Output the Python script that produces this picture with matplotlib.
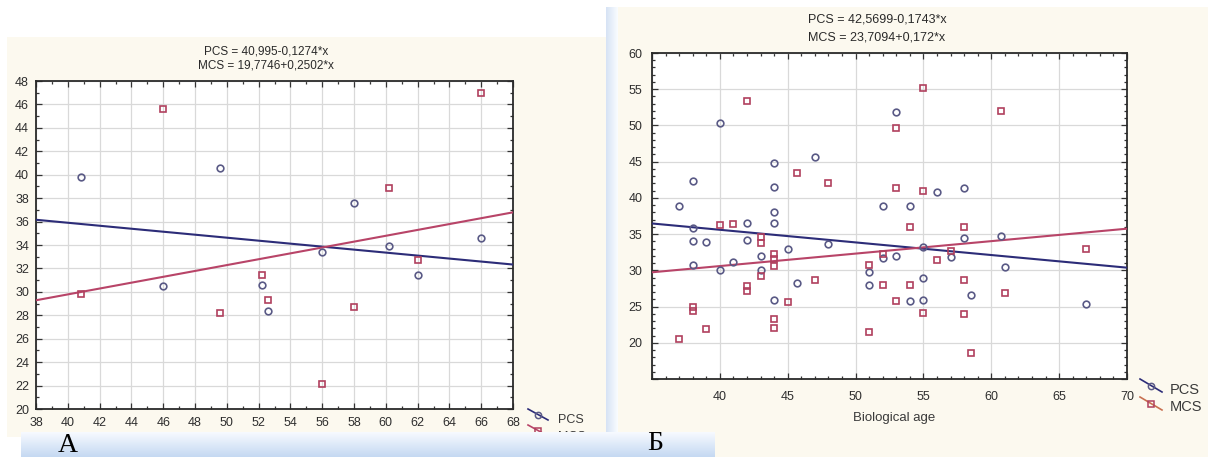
import numpy as np
import matplotlib
matplotlib.use("Agg")
import matplotlib.pyplot as plt
from matplotlib.lines import Line2D
from matplotlib.patches import Rectangle
from matplotlib.ticker import MultipleLocator, FixedLocator, FixedFormatter

W, H = 1208, 457
DPI = 100

# ---------------- data: panel A ----------------
a_pcs_x = [40.8, 46, 49.6, 52.2, 52.6, 56, 58, 60.2, 62, 66]
a_pcs_y = [39.8, 30.5, 40.6, 30.6, 28.4, 33.4, 37.6, 33.9, 31.4, 34.6]
a_mcs_x = [40.8, 46, 49.6, 52.2, 52.6, 56, 58, 60.2, 62, 66]
a_mcs_y = [29.8, 45.6, 28.2, 31.4, 29.3, 22.1, 28.7, 38.9, 32.7, 47.0]
a_pcs_fit = (40.995, -0.1274)
a_mcs_fit = (19.7746, 0.2502)
a_titles = ["PCS = 40,995-0,1274*x", "MCS = 19,7746+0,2502*x"]
a_xticks = list(range(38, 70, 2))
a_yticks = list(range(20, 50, 2))

# ---------------- data: panel Б ----------------
b_pcs_x = [37, 38, 38, 38, 38, 39, 40, 40, 41, 42, 42, 43, 43, 44, 44, 44, 44, 44,
           45, 45.7, 47, 48, 51, 51, 52, 52, 53, 53, 54, 54, 55, 55, 55, 56, 57,
           58, 58, 58.5, 60.7, 61, 67]
b_pcs_y = [38.9, 42.3, 35.9, 34.0, 30.8, 33.9, 50.4, 30.0, 31.1, 36.5, 34.2, 32.0,
           30.1, 44.8, 41.5, 38.1, 36.5, 25.9, 33.0, 28.2, 45.6, 33.7, 29.8, 28.0,
           38.9, 31.7, 51.9, 32.0, 38.9, 25.7, 33.2, 29.0, 25.9, 40.8, 31.9, 41.4,
           34.5, 26.6, 34.7, 30.4, 25.3]
b_mcs_x = [37, 38, 38, 39, 40, 41, 42, 42, 42, 43, 43, 43, 44, 44, 44, 44, 44, 45,
           45.7, 47, 48, 51, 51, 52, 52, 53, 53, 53, 54, 54, 55, 55, 55, 56, 57,
           58, 58, 58, 58.5, 60.7, 61, 67]
b_mcs_y = [20.5, 25.0, 24.4, 21.9, 36.2, 36.4, 53.4, 27.8, 27.2, 34.6, 33.8, 29.2,
           32.2, 31.5, 30.6, 23.3, 22.1, 25.6, 43.4, 28.7, 42.1, 30.8, 21.5, 32.3,
           28.0, 49.6, 41.3, 25.7, 36.0, 28.0, 55.1, 41.0, 24.1, 31.4, 32.6, 36.0,
           28.7, 24.0, 18.6, 52.0, 26.9, 33.0]
b_pcs_fit = (42.5699, -0.1743)
b_mcs_fit = (23.7094, 0.172)
b_titles = ["PCS = 42,5699-0,1743*x", "MCS = 23,7094+0,172*x"]
b_xticks = list(range(35, 75, 5))
b_yticks = list(range(15, 65, 5))
b_xlabel = "Biological age"

series_names = ["PCS", "MCS"]
panel_letters = ["A", "Б"]

# ---------------- style ----------------
PCS_C = "#5a5a86"
PCS_LINE = "#2c2c78"
MCS_C = "#b0405e"
MCS_LINE = "#b84468"
CREAM = "#fcf9ef"
TICK_C = "#2e2e2e"
FONT = "Liberation Sans"

fig = plt.figure(figsize=(W / DPI, H / DPI), dpi=DPI)
fig.patch.set_facecolor("white")


def fx(px):
    return px / W


def fy(py):
    return 1 - py / H


# background layer (pixel coordinates)
bg = fig.add_axes([0, 0, 1, 1], zorder=-10)
bg.set_xlim(0, W)
bg.set_ylim(H, 0)
bg.axis("off")
bg.add_patch(Rectangle((7, 37), 599, 400, color=CREAM, lw=0))
bg.add_patch(Rectangle((618, 7), 590, 450, color=CREAM, lw=0))
strip_h = np.linspace(0, 1, 32).reshape(1, -1)
sh = np.dstack([0.84 + 0.14 * strip_h, 0.89 + 0.10 * strip_h, 0.96 + 0.04 * strip_h])
bg.imshow(sh, extent=(606, 618, 432, 7), aspect="auto")
bg.set_xlim(0, W)
bg.set_ylim(H, 0)


def style_axes(ax, xmin, xmax, ymin, ymax, xticks, yticks, xminor, yminor,
               hide_first=False, xpad=5, ypad=5):
    ax.set_xlim(xmin, xmax)
    ax.set_ylim(ymin, ymax)
    ax.xaxis.set_major_locator(FixedLocator(xticks))
    ax.yaxis.set_major_locator(FixedLocator(yticks))
    xl = [str(t) for t in xticks]
    yl = [str(t) for t in yticks]
    if hide_first:
        xl[0] = ""
        yl[0] = ""
    ax.xaxis.set_major_formatter(FixedFormatter(xl))
    ax.yaxis.set_major_formatter(FixedFormatter(yl))
    ax.xaxis.set_minor_locator(MultipleLocator(xminor))
    ax.yaxis.set_minor_locator(MultipleLocator(yminor))
    ax.tick_params(which="both", direction="in", top=True, right=True,
                   color="#333333", width=0.9)
    ax.tick_params(which="major", length=4)
    ax.tick_params(which="minor", length=2.5)
    ax.tick_params(axis="x", which="major", pad=xpad, labelsize=9, labelcolor=TICK_C)
    ax.tick_params(axis="y", which="major", pad=ypad, labelsize=9, labelcolor=TICK_C)
    for lab in ax.get_xticklabels() + ax.get_yticklabels():
        lab.set_fontfamily(FONT)
    ax.grid(True, which="major", color="#d9d9d9", lw=0.9)
    ax.set_axisbelow(True)
    for s in ax.spines.values():
        s.set_color("#2a2a2a")
        s.set_linewidth(1.3)
    ax.set_facecolor("white")


def draw_panel(ax, pcs_x, pcs_y, mcs_x, mcs_y, pcs_fit, mcs_fit):
    x0, x1 = ax.get_xlim()
    xs = np.linspace(x0, x1, 50)
    ax.plot(xs, pcs_fit[0] + pcs_fit[1] * xs, color=PCS_LINE, lw=1.5, zorder=3)
    ax.plot(xs, mcs_fit[0] + mcs_fit[1] * xs, color=MCS_LINE, lw=1.5, zorder=3)
    ax.plot(pcs_x, pcs_y, linestyle="none", marker="o", ms=4.8, mfc="none",
            mec=PCS_C, mew=1.2, zorder=4)
    ax.plot(mcs_x, mcs_y, linestyle="none", marker="s", ms=4.8, mfc="none",
            mec=MCS_C, mew=1.2, zorder=4)


# ---------------- panel A ----------------
axA = fig.add_axes([fx(36), fy(409), fx(513 - 36), (409 - 81) / H], zorder=1)
style_axes(axA, 38, 68, 20, 48, a_xticks, a_yticks, 1, 1, xpad=6, ypad=5)
draw_panel(axA, a_pcs_x, a_pcs_y, a_mcs_x, a_mcs_y, a_pcs_fit, a_mcs_fit)
fig.text(fx(266), fy(52), a_titles[0], ha="center", va="center", fontsize=8.5,
         family=FONT, color="#2a2a2a")
fig.text(fx(266), fy(65), a_titles[1], ha="center", va="center", fontsize=8.5,
         family=FONT, color="#2a2a2a")

# ---------------- panel Б ----------------
axB = fig.add_axes([fx(652), fy(379), fx(1127 - 652), (379 - 53) / H], zorder=1)
style_axes(axB, 35, 70, 15, 60, b_xticks, b_yticks, 1, 1, hide_first=True,
           xpad=9, ypad=7)
draw_panel(axB, b_pcs_x, b_pcs_y, b_mcs_x, b_mcs_y, b_pcs_fit, b_mcs_fit)
fig.text(fx(877), fy(20), b_titles[0], ha="center", va="center", fontsize=9,
         family=FONT, color="#2a2a2a")
fig.text(fx(877), fy(37), b_titles[1], ha="center", va="center", fontsize=9,
         family=FONT, color="#2a2a2a")
fig.text(fx(894), fy(418), b_xlabel, ha="center", va="center", fontsize=9.5,
         family=FONT, color="#3a3a3a")


# ---------------- legends (Statistica-style slanted keys) ----------------
def legend_key(x0, y0, x1, y1, color, mcolor, marker, label, tx, ty, fs):
    fig.add_artist(Line2D([fx(x0), fx(x1)], [fy(y0), fy(y1)], color=color, lw=1.2,
                          zorder=3))
    fig.add_artist(Line2D([fx((x0 + x1) / 2)], [fy((y0 + y1) / 2)], marker=marker,
                          ms=4.5, mfc="none", mec=mcolor, mew=1.1, zorder=3))
    fig.text(fx(tx), fy(ty), label, ha="left", va="center", fontsize=fs,
             family=FONT, color="#3a3a3a", zorder=3)


legend_key(528, 409, 548, 420, PCS_LINE, PCS_C, "o", series_names[0], 558, 420, 9)
legend_key(528, 425, 548, 436, MCS_LINE, MCS_C, "s", series_names[1], 558, 437, 9)
legend_key(1140, 379, 1162, 392, PCS_LINE, PCS_C, "o", series_names[0], 1170, 390, 10.5)
legend_key(1140, 397, 1162, 410, "#c87050", MCS_C, "s", series_names[1], 1170, 407, 10.5)

# ---------------- overlay bar with panel letters ----------------
ov = fig.add_axes([0, 0, 1, 1], zorder=10)
ov.set_xlim(0, W)
ov.set_ylim(H, 0)
ov.axis("off")
ov.patch.set_visible(False)
g = np.linspace(0, 1, 64).reshape(-1, 1)
bar = np.dstack([0.97 - 0.20 * g, 0.98 - 0.13 * g, 1.0 - 0.05 * g])
ov.imshow(np.repeat(bar, 2, axis=1), extent=(21, 715, 457, 432), aspect="auto")
ov.set_xlim(0, W)
ov.set_ylim(H, 0)
ov.text(67.5, 445, panel_letters[0], ha="center", va="center", fontsize=20,
        family="Liberation Serif", color="black")
ov.text(655, 443, panel_letters[1], ha="center", va="center", fontsize=20,
        family="Liberation Serif", color="black")

fig.savefig("out.png", dpi=DPI)
